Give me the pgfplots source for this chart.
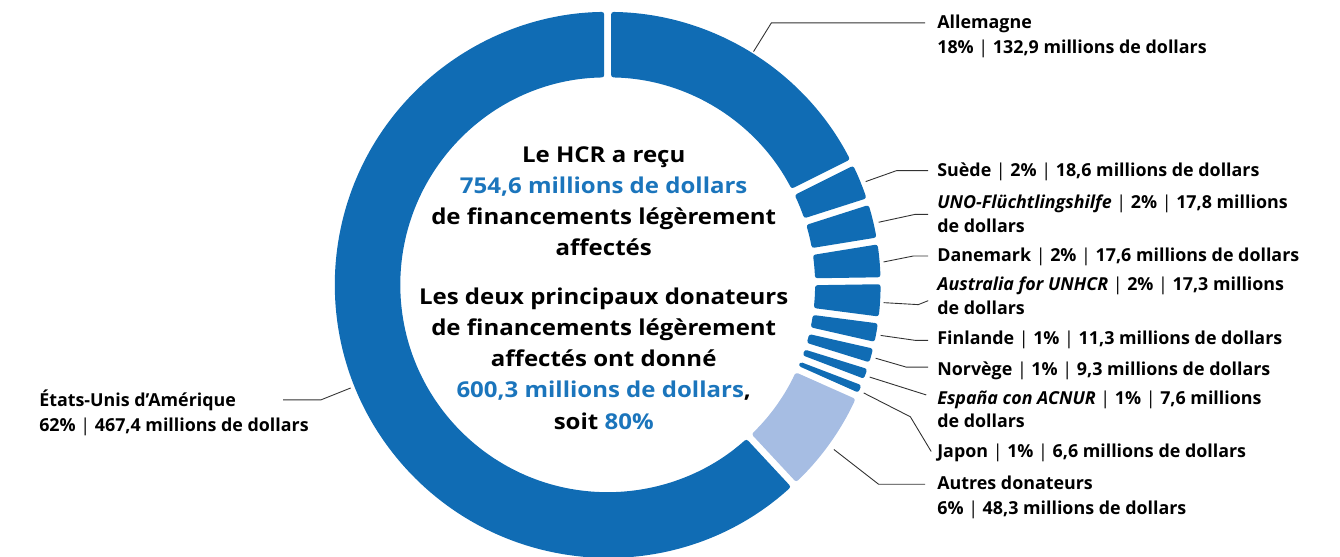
\documentclass[border=0pt]{standalone}
\usepackage{pgfplots}
\pgfplotsset{compat=1.18}
\usepackage{pgfplotstable}
\usepackage{fontspec}
\setmainfont{Open Sans}
\newfontfamily\centerfont{Open Sans}[FakeStretch=1.1]
\definecolor{segblue}{RGB}{16,108,180}
\definecolor{seglight}{RGB}{166,189,227}
\definecolor{txtblue}{RGB}{27,117,188}
\definecolor{leader}{RGB}{50,50,50}
\newcommand\sep{ {\mdseries|} }

% donors, clockwise from the top
\pgfplotstableread{
value light
132.9 0
18.6 0
17.8 0
17.6 0
17.3 0
11.3 0
9.3 0
7.6 0
6.6 0
48.3 1
467.4 0
}\donors

\def\cx{602}\def\cy{274}\def\Ro{275}\def\Ri{209}
\def\go{0.73}\def\gi{0.96}

\begin{document}
\def\total{0}
\pgfplotsforeachungrouped \i in {0,...,10}{%
  \pgfplotstablegetelem{\i}{value}\of\donors
  \pgfmathsetmacro\total{\total+\pgfplotsretval}}
\def\cum{0}
\pgfplotsforeachungrouped \i in {0,...,10}{%
  \pgfplotstablegetelem{\i}{value}\of\donors
  \pgfmathsetmacro\angS{90-360*(\cum/\total)-\go}%
  \pgfmathsetmacro\cum{\cum+\pgfplotsretval}%
  \pgfmathsetmacro\angE{90-360*(\cum/\total)+\go}%
  \pgfmathsetmacro\angSi{\angS+\go-\gi}%
  \pgfmathsetmacro\angEi{\angE-\go+\gi}%
  \pgfmathsetmacro\px{\cx+\Ro*cos(\angS)}%
  \pgfmathsetmacro\py{\cy+\Ro*sin(\angS)}%
  \pgfmathsetmacro\qx{\cx+\Ri*cos(\angEi)}%
  \pgfmathsetmacro\qy{\cy+\Ri*sin(\angEi)}%
  \expandafter\xdef\csname as\i\endcsname{\angS}%
  \expandafter\xdef\csname ae\i\endcsname{\angE}%
  \expandafter\xdef\csname asi\i\endcsname{\angSi}%
  \expandafter\xdef\csname aei\i\endcsname{\angEi}%
  \expandafter\xdef\csname px\i\endcsname{\px}%
  \expandafter\xdef\csname py\i\endcsname{\py}%
  \expandafter\xdef\csname qx\i\endcsname{\qx}%
  \expandafter\xdef\csname qy\i\endcsname{\qy}%
  \pgfplotstablegetelem{\i}{light}\of\donors
  \ifnum\pgfplotsretval=1 \colorlet{seg\i}{seglight}\else\colorlet{seg\i}{segblue}\fi
}
\begin{tikzpicture}
\begin{axis}[x=1pt, y=1pt, xmin=0, xmax=1340, ymin=0, ymax=561,
  scale only axis, hide axis, clip=false]
\pgfplotsinvokeforeach{0,...,10}{
  \fill[seg#1, rounded corners=2.5pt]
    (axis cs:\csname px#1\endcsname,\csname py#1\endcsname)
    arc[start angle=\csname as#1\endcsname, end angle=\csname ae#1\endcsname, radius=\Ro pt]
    -- (axis cs:\csname qx#1\endcsname,\csname qy#1\endcsname)
    arc[start angle=\csname aei#1\endcsname, end angle=\csname asi#1\endcsname, radius=\Ri pt]
    -- cycle;
}
% leader lines
\begin{scope}[leader, line width=0.9pt]
\draw (axis cs:749,509) -- (axis cs:767,538) -- (axis cs:922,538);
\draw (axis cs:862,378) -- (axis cs:893,389) -- (axis cs:925,389);
\draw (axis cs:875,337) -- (axis cs:912,345) -- (axis cs:925,345);
\draw (axis cs:880,297) -- (axis cs:910,303) -- (axis cs:925,303);
\draw (axis cs:880,256) -- (axis cs:915,254) -- (axis cs:925,258);
\draw (axis cs:877,223) -- (axis cs:912,218) -- (axis cs:925,218);
\draw (axis cs:872,200) -- (axis cs:903,191) -- (axis cs:925,191);
\draw (axis cs:866,181) -- (axis cs:923,163);
\draw (axis cs:860,165) -- (axis cs:907,141) -- (axis cs:928,106);
\draw (axis cs:830,108) -- (axis cs:875,73) -- (axis cs:922,73);
\draw (axis cs:343,170) -- (axis cs:313,158) -- (axis cs:275,158);
\end{scope}
% labels
\begin{scope}[every node/.style={anchor=base west, inner sep=0pt,
  font=\fontsize{18}{24}\selectfont\bfseries}]
\node at (axis cs:934,532) {Allemagne};
\node at (axis cs:934,507) {18\%\sep 132,9 millions de dollars};
\node at (axis cs:934,383) {Suède\sep 2\%\sep 18,6 millions de dollars};
\node at (axis cs:934,351) {\textit{UNO-Flüchtlingshilfe}\sep 2\%\sep 17,8 millions};
\node at (axis cs:934,327) {de dollars};
\node at (axis cs:934,297) {Danemark\sep 2\%\sep 17,6 millions de dollars};
\node at (axis cs:934,268) {\textit{Australia for UNHCR}\sep 2\%\sep 17,3 millions};
\node at (axis cs:934,244) {de dollars};
\node at (axis cs:934,214) {Finlande\sep 1\%\sep 11,3 millions de dollars};
\node at (axis cs:934,183) {Norvège\sep 1\%\sep 9,3 millions de dollars};
\node at (axis cs:934,153) {\textit{España con ACNUR}\sep 1\%\sep 7,6 millions};
\node at (axis cs:934,130) {de dollars};
\node at (axis cs:934,100) {Japon\sep 1\%\sep 6,6 millions de dollars};
\node at (axis cs:934,68) {Autres donateurs};
\node at (axis cs:934,43) {6\%\sep 48,3 millions de dollars};
\node at (axis cs:29,151) {États-Unis d'Amérique};
\node at (axis cs:29,126) {62\%\sep 467,4 millions de dollars};
\end{scope}
\begin{scope}[every node/.style={anchor=base, inner sep=0pt,
  font=\centerfont\fontsize{22}{31}\selectfont\bfseries}]
\node at (axis cs:598,397) {Le HCR a reçu};
\node[txtblue] at (axis cs:598,366) {754,6 millions de dollars};
\node at (axis cs:598,335) {de financements légèrement};
\node at (axis cs:598,304) {affectés};
\node at (axis cs:598,254) {Les deux principaux donateurs};
\node at (axis cs:598,223) {de financements légèrement};
\node at (axis cs:598,192) {affectés ont donné};
\node at (axis cs:598,160) {\textcolor{txtblue}{600,3 millions de dollars},};
\node at (axis cs:598,128) {soit \textcolor{txtblue}{80\%}};
\end{scope}
\end{axis}
\pgfresetboundingbox
\useasboundingbox (0,0) rectangle (1340pt,561pt);
\end{tikzpicture}
\end{document}
